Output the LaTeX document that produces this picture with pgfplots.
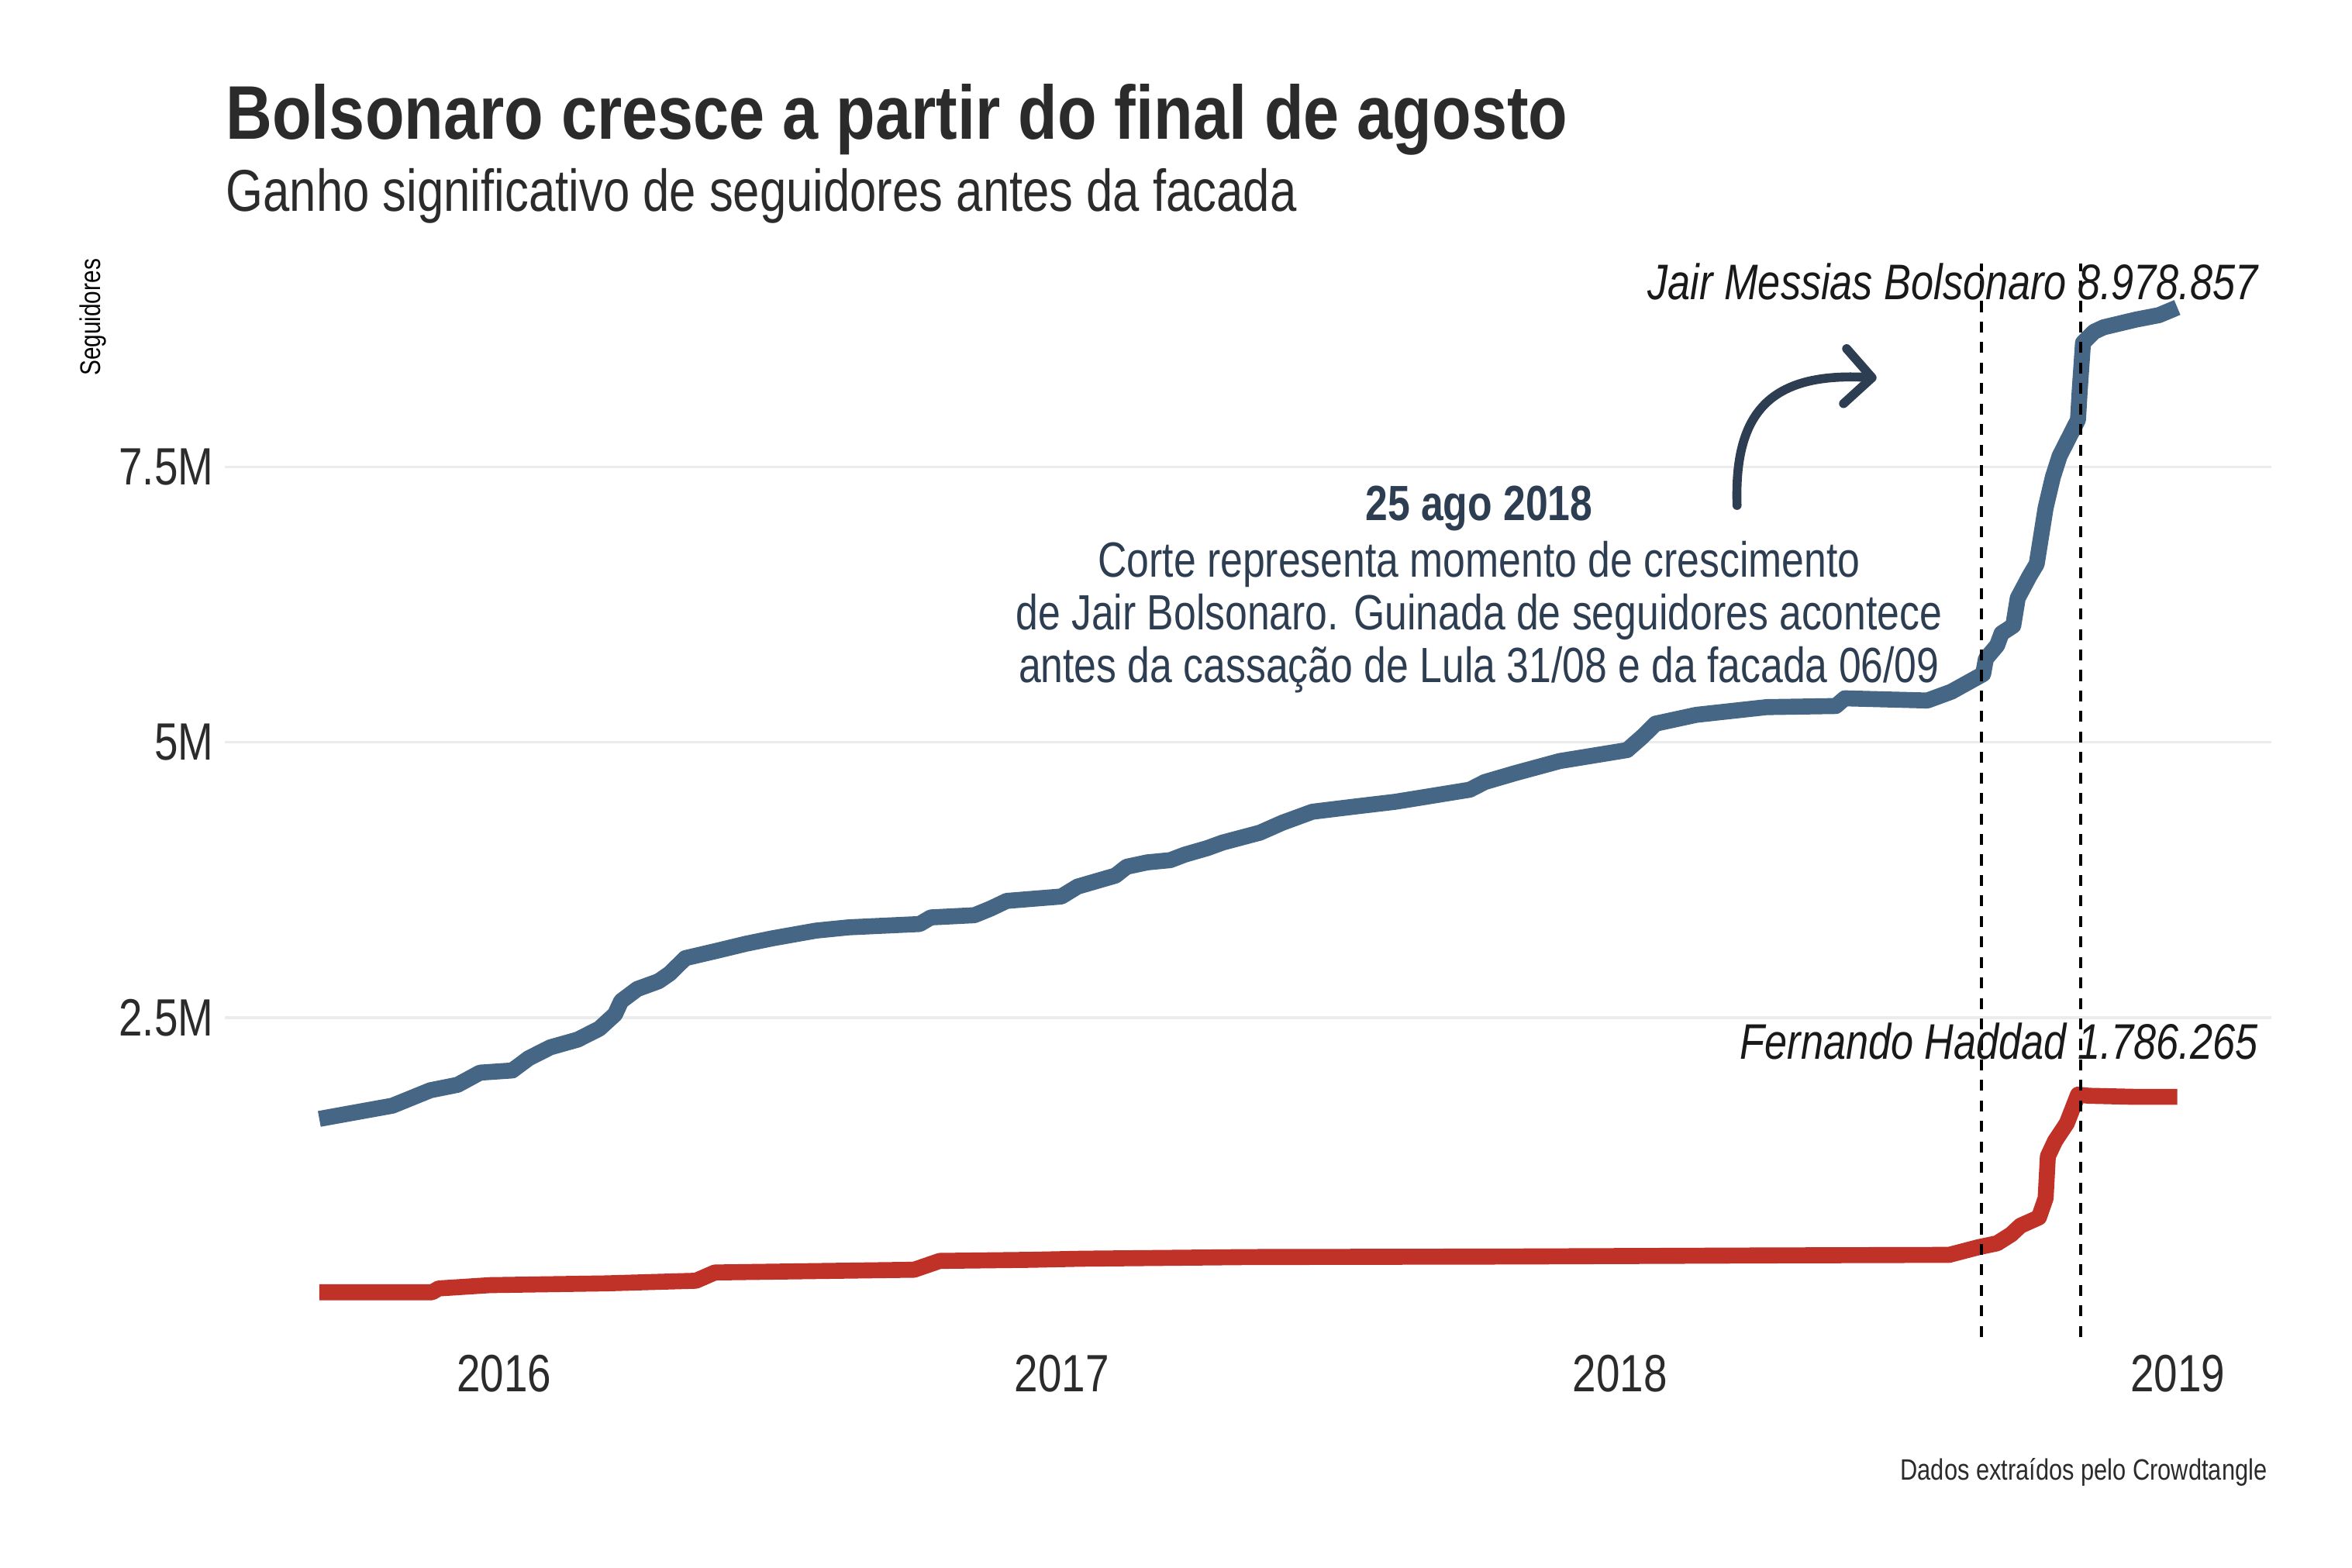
\documentclass[border=0pt]{standalone}
\usepackage{fontspec}
\setmainfont{Liberation Sans}[FakeStretch=0.81]
\newfontfamily\titlefont{Liberation Sans}[FakeStretch=0.845]
\usepackage{pgfplots}
\usepackage{pgfplotstable}
\pgfplotsset{compat=1.18}
\usetikzlibrary{arrows.meta}
\definecolor{bolso}{RGB}{69,102,132}
\definecolor{haddad}{RGB}{192,49,39}
\definecolor{navy}{RGB}{46,62,82}
\definecolor{txt}{RGB}{43,43,43}

\pgfplotstableread{
x y
2015.669 1.58
2015.800 1.70
2015.868 1.84
2015.917 1.89
2015.957 2.00
2016.015 2.02
2016.044 2.13
2016.083 2.23
2016.132 2.30
2016.171 2.40
2016.199 2.53
2016.210 2.65
2016.239 2.76
2016.277 2.83
2016.297 2.90
2016.325 3.04
2016.384 3.11
2016.433 3.17
2016.481 3.22
2016.559 3.29
2016.618 3.32
2016.745 3.35
2016.765 3.41
2016.843 3.43
2016.872 3.49
2016.901 3.56
2016.999 3.60
2017.028 3.69
2017.096 3.79
2017.116 3.87
2017.153 3.91
2017.194 3.93
2017.220 3.98
2017.261 4.04
2017.288 4.09
2017.355 4.18
2017.395 4.27
2017.449 4.37
2017.530 4.42
2017.597 4.46
2017.731 4.57
2017.758 4.64
2017.812 4.72
2017.892 4.83
2018.013 4.93
2018.040 5.05
2018.064 5.17
2018.137 5.25
2018.263 5.32
2018.387 5.33
2018.403 5.40
2018.551 5.38
2018.594 5.46
2018.626 5.55
2018.651 5.62
2018.656 5.76
2018.676 5.88
2018.684 5.99
2018.705 6.06
2018.713 6.31
2018.734 6.51
2018.747 6.62
2018.763 7.13
2018.776 7.41
2018.788 7.60
2018.805 7.77
2018.821 7.93
2018.824 8.19
2018.830 8.63
2018.850 8.73
2018.867 8.77
2018.925 8.84
2018.966 8.88
2018.999 8.95
}\bolsotab

\pgfplotstableread{
x y
2015.669 0.005
2015.871 0.005
2015.883 0.04
2015.975 0.07
2016.182 0.086
2016.344 0.11
2016.378 0.185
2016.735 0.21
2016.781 0.29
2016.943 0.30
2017.035 0.31
2017.334 0.325
2017.806 0.33
2018.267 0.34
2018.590 0.345
2018.643 0.415
2018.676 0.45
2018.701 0.53
2018.718 0.61
2018.751 0.685
2018.763 0.86
2018.767 1.24
2018.780 1.38
2018.801 1.54
2018.821 1.80
2018.841 1.79
2018.925 1.78
2018.999 1.78
}\haddadtab

\begin{document}
\begin{tikzpicture}
\path[use as bounding box] (0pt,0pt) rectangle (470.4pt,313.5pt);
\begin{axis}[
  at={(45pt,45pt)}, anchor=south west,
  scale only axis, width=409.2pt, height=217.5pt,
  xmin=2015.5, xmax=2019.167, ymin=-0.449, ymax=9.427,
  axis line style={draw=none},
  major tick length=0pt,
  xtick={2016,2017,2018,2019}, xticklabels={2016,2017,2018,2019},
  ytick={2.5,5,7.5}, yticklabels={2.5M,5M,7.5M},
  ymajorgrids, grid style={color=gray!15, line width=0.5pt},
  /pgf/number format/assume math mode=true,
  xticklabel style={font=\fontsize{10.5}{12}\selectfont, text=txt, inner sep=0pt, yshift=-2.4pt, anchor=north},
  yticklabel style={font=\fontsize{10.5}{12}\selectfont, text=txt, inner sep=0pt, xshift=-2.1pt, anchor=east},
  clip=false,
]
\addplot[bolso, line width=3.2pt, line join=round] table[x=x,y=y] {\bolsotab};
\addplot[haddad, line width=3.2pt, line join=round] table[x=x,y=y] {\haddadtab};
\addplot[black, line width=0.6pt, dash pattern=on 2.2pt off 1.9pt] coordinates {(2018.648,-0.40) (2018.648,9.35)};
\addplot[black, line width=0.6pt, dash pattern=on 2.2pt off 1.9pt] coordinates {(2018.826,-0.40) (2018.826,9.35)};
\end{axis}

\begin{scope}[x=0.3pt,y=0.3pt]
\node[anchor=base west, font=\titlefont\bfseries\fontsize{15.2}{18}\selectfont, text=txt, inner sep=0pt] at (150,952) {Bolsonaro cresce a partir do final de agosto};
\node[anchor=base west, font=\fontsize{11.8}{14}\selectfont, text=txt, inner sep=0pt] at (150,904) {Ganho significativo de seguidores antes da facada};
\node[rotate=90, anchor=east, font=\fontsize{5.7}{7}\selectfont, text=black, inner sep=0pt] at (62,873) {Seguidores};

\node[anchor=base, font=\bfseries\fontsize{9.9}{12}\selectfont, text=navy, inner sep=0pt] at (986,698) {25 ago 2018};
\node[anchor=base, font=\fontsize{9.9}{12}\selectfont, text=navy, inner sep=0pt] at (986,660) {Corte representa momento de crescimento};
\node[anchor=base, font=\fontsize{9.9}{12}\selectfont, text=navy, inner sep=0pt] at (986,625) {de Jair Bolsonaro. Guinada de seguidores acontece};
\node[anchor=base, font=\fontsize{9.9}{12}\selectfont, text=navy, inner sep=0pt] at (986,590) {antes da cassação de Lula 31/08 e da facada 06/09};

\draw[navy, line width=1.8pt, line cap=round, -{Straight Barb[length=5.4pt, width=11pt, line cap=round, line join=round]}] (1158,708) .. controls (1156,770) and (1180,797) .. (1251,793);

\node[anchor=base east, font=\itshape\fontsize{10}{12}\selectfont, text=black!90, inner sep=0pt] at (1506,845) {Jair Messias Bolsonaro 8.978.857};
\node[anchor=base east, font=\itshape\fontsize{10}{12}\selectfont, text=black!90, inner sep=0pt] at (1506,339) {Fernando Haddad 1.786.265};

\node[anchor=base east, font=\fontsize{5.9}{7}\selectfont, text=txt, inner sep=0pt] at (1512,58) {Dados extraídos pelo Crowdtangle};
\end{scope}
\end{tikzpicture}
\end{document}
